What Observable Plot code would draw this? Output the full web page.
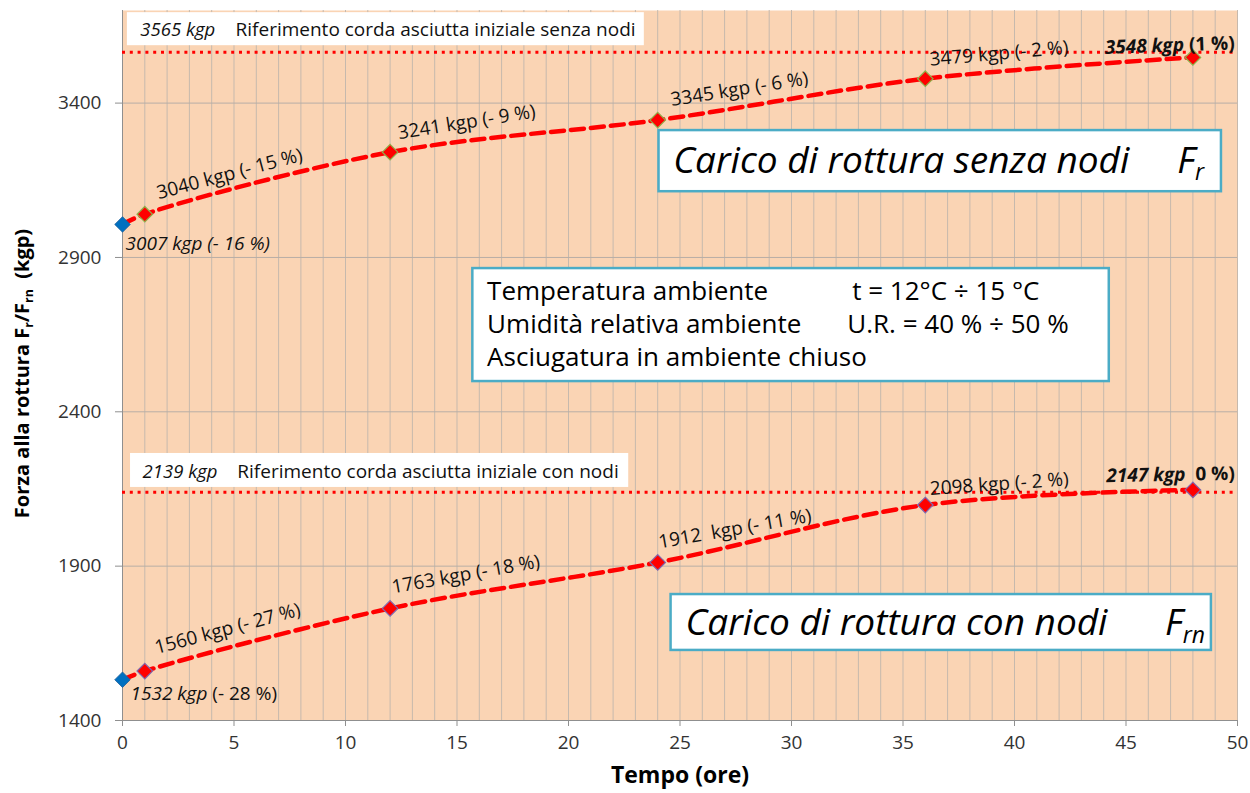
<!DOCTYPE html>
<html>
<head>
<meta charset="utf-8">
<script src="https://cdn.jsdelivr.net/npm/d3@7"></script>
<script src="https://cdn.jsdelivr.net/npm/@observablehq/plot@0.6"></script>
<style>
  html, body { margin: 0; padding: 0; background: #ffffff; }
  #chart svg text { white-space: pre; }
</style>
</head>
<body>
<div id="chart"></div>
<script>
// ---------------- DATA ----------------
const hours = [0, 1, 12, 24, 36, 48];
const forceFr = [3007, 3040, 3241, 3345, 3479, 3548];
const forceFrn = [1532, 1560, 1763, 1912, 2098, 2147];
const labelsFr = ["*3007 kgp (- 16 %)*", "3040 kgp (- 15 %)", "3241 kgp (- 9 %)", "3345 kgp (- 6 %)", "3479 kgp (- 2 %)", "*3548 kgp* (1 %)"];
const labelsFrn = ["*1532 kgp* (- 28 %)", "1560 kgp (- 27 %)", "1763 kgp (- 18 %)", "1912  kgp (- 11 %)", "2098 kgp (- 2 %)", "*2147 kgp*  0 %)"];
const refValues = [3565, 2139];
const refTexts = ["Riferimento corda asciutta iniziale senza nodi", "Riferimento corda asciutta iniziale con nodi"];
const xTicks = [0, 5, 10, 15, 20, 25, 30, 35, 40, 45, 50];
const yTicks = [1400, 1900, 2400, 2900, 3400];
const conditionLabels = ["Temperatura ambiente", "Umidità relativa ambiente", "Asciugatura in ambiente chiuso"];
const conditionValues = ["t = 12°C ÷ 15 °C", "U.R. = 40 % ÷ 50 %", ""];
const seriesTitles = ["Carico di rottura senza nodi     F_{r}", "Carico di rottura con nodi      F_{rn}"];
const xTitle = "Tempo (ore)";
const yTitle = "Forza alla rottura F_{r}/F_{rn}  (kgp)";

// ---------------- LAYOUT (annotation placement) ----------------
const layoutFr = [
  {dx: 3, dy: 26, rotate: 0, anchor: "start"},
  {dx: 14, dy: -15, rotate: -15, anchor: "start"},
  {dx: 9, dy: -13, rotate: -9, anchor: "start"},
  {dx: 14, dy: -14, rotate: -9, anchor: "start"},
  {dx: 5, dy: -13, rotate: -5, anchor: "start"},
  {dx: 42, dy: -8, rotate: -2, anchor: "end", bold: true}
];
const layoutFrn = [
  {dx: 8, dy: 20, rotate: 0, anchor: "start"},
  {dx: 12, dy: -17, rotate: -15, anchor: "start"},
  {dx: 3, dy: -15, rotate: -10, anchor: "start"},
  {dx: 2, dy: -14, rotate: -10, anchor: "start"},
  {dx: 5, dy: -10, rotate: -4, anchor: "start"},
  {dx: 42, dy: -10, rotate: -1, anchor: "end", bold: true}
];
const refBoxes = [
  {x1: 0.22, x2: 23.4, y1: 3586, y2: 3693, vx: 0.8, tx: 5.07, ty: 3638},
  {x1: 0.36, x2: 22.7, y1: 2155, y2: 2265, vx: 0.9, tx: 5.15, ty: 2206}
];
const condBox = {x1: 15.71, x2: 44.25, y1: 2498, y2: 2864};
const condRows = [2788, 2681, 2576];
const condLeft = 16.35;
const condRight = [32.72, 32.5, 32.5];
const titleBoxes = [
  {x1: 24.06, x2: 49.28, y1: 3113, y2: 3311, tx: 24.7, ty: 3212},
  {x1: 24.6, x2: 48.83, y1: 1627, y2: 1808, tx: 25.25, ty: 1715}
];

const ptsFr = hours.map((h, i) => ({h, v: forceFr[i], label: labelsFr[i], i}));
const ptsFrn = hours.map((h, i) => ({h, v: forceFrn[i], label: labelsFrn[i], i}));

const RED = "#ff0000";
const BLUE = "#0070c0";
const PEACH = "#fad4b4";
const GRID = "#c6b9ad";
const FRAME = "#4bacc6";

function pointLabels(pts, layout) {
  return pts.map((p, i) => Plot.text([p], {
    x: "h", y: "v", text: "label",
    dx: layout[i].dx, dy: layout[i].dy, rotate: layout[i].rotate,
    textAnchor: layout[i].anchor, lineAnchor: "bottom",
    fontSize: 19, fontWeight: layout[i].bold ? "bold" : "normal",
    fill: "#111"
  }));
}

const plot = Plot.plot({
  width: 1250,
  height: 793,
  marginLeft: 122,
  marginRight: 13,
  marginTop: 10,
  marginBottom: 73,
  style: {fontFamily: "'Open Sans', 'Noto Sans', sans-serif", background: "#ffffff", overflow: "visible"},
  x: {domain: [0, 50]},
  y: {domain: [1400, 3700]},
  marks: [
    Plot.frame({fill: PEACH, stroke: null}),
    Plot.ruleX(d3.range(1, 51), {stroke: GRID, strokeWidth: 1}),
    Plot.ruleY(yTicks.slice(1), {stroke: "#b8aea6", strokeWidth: 1}),
    Plot.ruleX([0], {stroke: "#8f8f8f", strokeWidth: 1}),
    Plot.ruleY([1400], {stroke: "#8f8f8f", strokeWidth: 1}),
    // reference label boxes
    Plot.rect(refBoxes, {x1: "x1", x2: "x2", y1: "y1", y2: "y2", fill: "white"}),
    Plot.text(refBoxes, {x: "vx", y: "ty", text: (d, i) => `${refValues[i]} kgp`, textAnchor: "start", fontStyle: "italic", fontSize: 18.5, fill: "#111"}),
    Plot.text(refBoxes, {x: "tx", y: "ty", text: (d, i) => refTexts[i], textAnchor: "start", fontSize: 19, fill: "#111"}),
    // conditions box
    Plot.rect([condBox], {x1: "x1", x2: "x2", y1: "y1", y2: "y2", fill: "white", stroke: FRAME, strokeWidth: 2.5}),
    Plot.text(conditionLabels, {x: () => condLeft, y: (d, i) => condRows[i], text: d => d, textAnchor: "start", fontSize: 26, fill: "#000"}),
    Plot.text(conditionValues, {x: (d, i) => condRight[i], y: (d, i) => condRows[i], text: d => d, textAnchor: "start", fontSize: 26, fill: "#000"}),
    // series title boxes
    Plot.rect(titleBoxes, {x1: "x1", x2: "x2", y1: "y1", y2: "y2", fill: "white", stroke: FRAME, strokeWidth: 2.5}),
    Plot.text(titleBoxes, {x: "tx", y: "ty", text: (d, i) => seriesTitles[i], textAnchor: "start", fontStyle: "italic", fontSize: 37, fill: "#000"}),
    // reference dotted lines
    Plot.ruleY(refValues, {stroke: RED, strokeWidth: 3, strokeDasharray: "3,4.8"}),
    // series lines
    Plot.line(ptsFr, {x: "h", y: "v", stroke: RED, strokeWidth: 4.5, strokeDasharray: "13,7", curve: "catmull-rom"}),
    Plot.line(ptsFrn, {x: "h", y: "v", stroke: RED, strokeWidth: 4.5, strokeDasharray: "13,7", curve: "catmull-rom"}),
    // markers
    Plot.dot(ptsFr.filter(d => d.i > 0), {x: "h", y: "v", symbol: "diamond2", r: 7, fill: RED, stroke: "#8fb04a", strokeWidth: 1.2}),
    Plot.dot(ptsFrn.filter(d => d.i > 0), {x: "h", y: "v", symbol: "diamond2", r: 7, fill: RED, stroke: "#7f68b0", strokeWidth: 1.2}),
    Plot.dot([ptsFr[0], ptsFrn[0]], {x: "h", y: "v", symbol: "diamond2", r: 7, fill: BLUE, stroke: "#1f5f9a", strokeWidth: 0.8}),
    // data labels
    ...pointLabels(ptsFr, layoutFr),
    ...pointLabels(ptsFrn, layoutFrn),
    // axes
    Plot.axisX({ticks: xTicks, tickSize: 6, tickPadding: 9, fontSize: 19, label: null, stroke: "#8f8f8f", fill: "#333", tickFormat: "d"}),
    Plot.axisY({ticks: yTicks, tickSize: 7, tickPadding: 14, fontSize: 19, label: null, stroke: "#8f8f8f", fill: "#333", tickFormat: "d"}),
    // axis titles
    Plot.text([xTitle], {frameAnchor: "bottom", dy: 62, textAnchor: "middle", text: d => d, fontSize: 23, fontWeight: "bold", fill: "#000"}),
    Plot.text([yTitle], {frameAnchor: "left", dx: -100, dy: 8, rotate: -90, textAnchor: "middle", lineAnchor: "middle", text: d => d, fontSize: 20, fontWeight: "bold", fill: "#000"})
  ]
});

document.getElementById("chart").appendChild(plot);

// rich text: *italic* and _{subscript}
d3.select(plot).selectAll("text").each(function() {
  if (this.querySelector("tspan")) return;
  const t = this.textContent;
  if (!/\*|_\{/.test(t)) return;
  const fs = parseFloat(getComputedStyle(this).fontSize) || 16;
  const shift = Math.round(fs * 0.2 * 10) / 10;
  const parts = t.split(/(\*[^*]+\*|_\{[^}]+\})/).filter(s => s.length);
  this.textContent = "";
  const sel = d3.select(this);
  let lowered = false;
  for (const p of parts) {
    let ts;
    if (p.startsWith("*")) {
      ts = sel.append("tspan").attr("font-style", "italic").text(p.slice(1, -1));
    } else if (p.startsWith("_{")) {
      ts = sel.append("tspan").attr("font-size", (fs * 0.62) + "px").text(p.slice(2, -1));
      if (!lowered) { ts.attr("dy", shift); lowered = true; }
      continue;
    } else {
      ts = sel.append("tspan").text(p);
    }
    if (lowered) { ts.attr("dy", -shift); lowered = false; }
  }
});
</script>
</body>
</html>
